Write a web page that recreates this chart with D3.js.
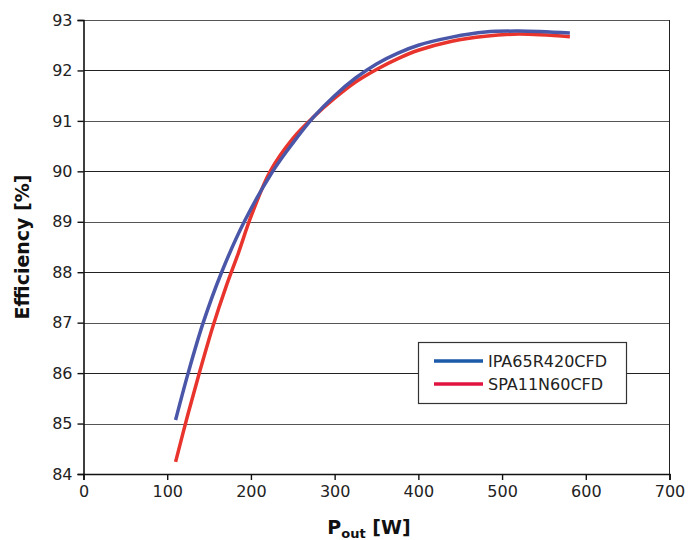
<!DOCTYPE html>
<html><head><meta charset="utf-8">
<script src="https://cdn.jsdelivr.net/npm/d3@7"></script>
<style>body{margin:0;background:#fff}svg{display:block}</style>
</head><body>
<svg id="chart" width="700" height="540"></svg>
<script>
const seriesNames = ["IPA65R420CFD", "SPA11N60CFD"];
const blueX = [110, 125, 143, 165, 192, 226, 250, 275, 300, 325, 350, 375, 400, 440, 480, 520, 581];
const blueY = [85.07, 86.0, 87.0, 88.0, 89.0, 90.0, 90.56, 91.08, 91.5, 91.85, 92.13, 92.34, 92.5, 92.66, 92.76, 92.78, 92.74];
const redX = [110, 125, 140, 155, 170, 185, 200, 223, 250, 275, 300, 325, 350, 375, 400, 440, 480, 520, 581];
const redY = [84.24, 85.2, 86.1, 86.95, 87.7, 88.38, 89.1, 90.0, 90.65, 91.08, 91.45, 91.77, 92.02, 92.23, 92.4, 92.58, 92.68, 92.72, 92.67];
const xTicks = [0, 100, 200, 300, 400, 500, 600, 700];
const yTicks = [84, 85, 86, 87, 88, 89, 90, 91, 92, 93];

const svg = d3.select("#chart");
const L = 83.5, R = 669.5, T = 20, B = 474;
const x = d3.scaleLinear().domain([0, 700]).range([L, R]);
const y = d3.scaleLinear().domain([84, 93]).range([B, T]);
const font = "'DejaVu Sans', sans-serif";

// gridlines
svg.append("g").selectAll("line").data(yTicks).join("line")
  .attr("x1", L).attr("x2", R)
  .attr("y1", d => Math.round(y(d)) + 0.5).attr("y2", d => Math.round(y(d)) + 0.5)
  .attr("stroke", (d, i) => i % 2 ? "#555" : "#222").attr("stroke-width", 1);
// right frame
svg.append("line").attr("x1", R).attr("x2", R).attr("y1", T).attr("y2", B)
  .attr("stroke", "#222").attr("stroke-width", 1);

// axes
const yAxis = svg.append("g").attr("transform", `translate(${L},0)`)
  .call(d3.axisLeft(y).tickValues(yTicks).tickSize(6).tickPadding(5).tickFormat(d3.format("d")));
const xAxis = svg.append("g").attr("transform", `translate(0,${B})`)
  .call(d3.axisBottom(x).tickValues(xTicks).tickSize(6).tickPadding(6).tickFormat(d3.format("d")));
[yAxis, xAxis].forEach(a => {
  a.select(".domain").attr("stroke", "#111").attr("stroke-width", 1.6);
  a.selectAll(".tick line").attr("stroke", "#111").attr("stroke-width", 1.4);
  a.selectAll(".tick text").attr("font-family", font).attr("font-size", 16).attr("fill", "#222");
});

// lines
const line = d3.line().curve(d3.curveCatmullRom.alpha(0.5));
const redPts = redX.map((v, i) => [x(v), y(redY[i])]);
const bluePts = blueX.map((v, i) => [x(v), y(blueY[i])]);
svg.append("path").attr("d", line(redPts)).attr("fill", "none")
  .attr("stroke", "#e8342c").attr("stroke-width", 3.5);
svg.append("path").attr("d", line(bluePts)).attr("fill", "none")
  .attr("stroke", "#4a56a8").attr("stroke-width", 3.5);

// titles
svg.append("text").attr("transform", `translate(29,${(T + B) / 2}) rotate(-90)`)
  .attr("text-anchor", "middle").attr("font-family", font).attr("font-weight", "bold")
  .attr("font-size", 19).attr("fill", "#111").text("Efficiency [%]");
const xt = svg.append("text").attr("x", 369).attr("y", 534).attr("text-anchor", "middle")
  .attr("font-family", font).attr("font-weight", "bold").attr("font-size", 19).attr("fill", "#111");
xt.append("tspan").text("P");
xt.append("tspan").attr("font-size", 13).attr("dy", 4).text("out");
xt.append("tspan").attr("dy", -4).text(" [W]");

// legend
const lg = svg.append("g");
lg.append("rect").attr("x", 418.5).attr("y", 342.5).attr("width", 208).attr("height", 61)
  .attr("fill", "#fff").attr("stroke", "#333").attr("stroke-width", 1.2);
const legColors = ["#1a5aa8", "#e0143e"];
seriesNames.forEach((n, i) => {
  const yy = 361 + i * 23;
  lg.append("line").attr("x1", 434).attr("x2", 483).attr("y1", yy).attr("y2", yy)
    .attr("stroke", legColors[i]).attr("stroke-width", 3.5);
  lg.append("text").attr("x", 488).attr("y", yy + 6).attr("font-family", font)
    .attr("font-size", 16).attr("fill", "#222").text(n);
});
</script>
</body></html>
